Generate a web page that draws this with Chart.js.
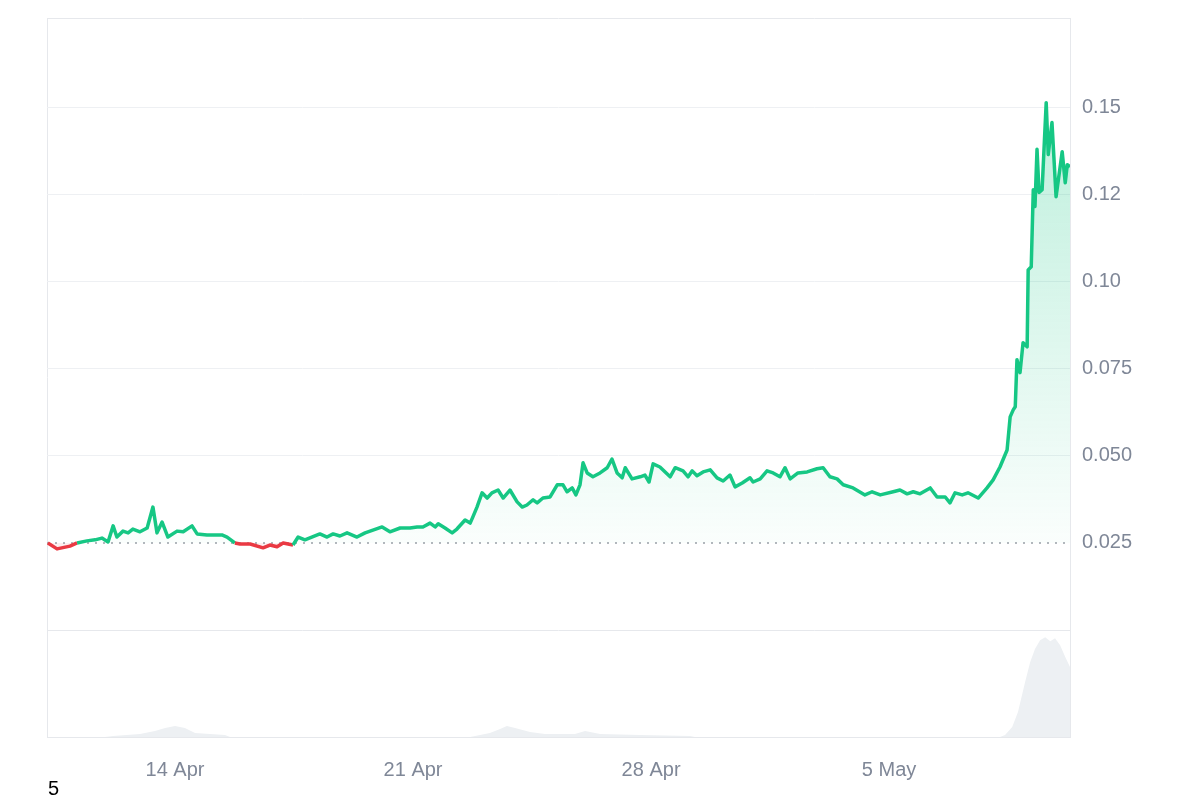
<!DOCTYPE html>
<html>
<head>
<meta charset="utf-8">
<script src="https://cdn.jsdelivr.net/npm/chart.js@4.4.1/dist/chart.umd.min.js"></script>
<style>
  html, body { margin: 0; padding: 0; background: #fff; }
  #wrap { position: relative; width: 1200px; height: 800px; }
  #note { position: absolute; left: 48px; top: 778px; font: 20px "Liberation Sans", Arial, sans-serif; color: #000; line-height: 20px; }
</style>
</head>
<body>
<div id="wrap">
  <canvas id="chart" width="1200" height="800"></canvas>
  <div id="note">5</div>
</div>
<script>
// x values are days since 10 Apr 00:00
const xMin = 0.235;
const xMax = 30.32;

const priceDays = [
  0.26, 0.53, 0.91, 1.12, 1.41, 1.65, 1.85, 2.03, 2.18, 2.29,
  2.47, 2.62, 2.76, 2.97, 3.18, 3.35, 3.47, 3.62, 3.79, 4.06,
  4.24, 4.50, 4.65, 4.94, 5.38, 5.53, 5.76, 5.91, 6.21, 6.59,
  6.79, 7.00, 7.18, 7.47, 7.62, 7.82, 8.26, 8.47, 8.65, 8.85,
  9.06, 9.35, 9.59, 9.82, 10.09, 10.32, 10.62, 10.91, 11.12, 11.29,
  11.50, 11.65, 11.74, 11.94, 12.15, 12.29, 12.53, 12.68, 12.76, 12.88,
  13.03, 13.18, 13.32, 13.50, 13.65, 13.85, 14.06, 14.21, 14.35, 14.53,
  14.65, 14.82, 15.03, 15.24, 15.41, 15.53, 15.68, 15.79, 15.91, 16.00,
  16.12, 16.29, 16.50, 16.71, 16.85, 17.00, 17.15, 17.24, 17.44, 17.68,
  17.82, 17.94, 18.06, 18.26, 18.56, 18.71, 18.94, 19.09, 19.21, 19.35,
  19.53, 19.74, 19.94, 20.12, 20.32, 20.47, 20.68, 20.91, 21.00, 21.21,
  21.41, 21.59, 21.79, 21.94, 22.09, 22.32, 22.59, 22.88, 23.06, 23.26,
  23.47, 23.65, 23.94, 24.29, 24.50, 24.74, 25.12, 25.32, 25.53, 25.71,
  25.91, 26.21, 26.41, 26.65, 26.79, 26.94, 27.15, 27.32, 27.62, 27.88,
  28.06, 28.26, 28.47, 28.56, 28.65, 28.71, 28.76, 28.85, 28.94, 29.06,
  29.09, 29.18, 29.24, 29.29, 29.35, 29.41, 29.50, 29.62, 29.68, 29.79,
  29.91, 30.09, 30.18, 30.24, 30.32
];
const prices = [
  0.0250, 0.0233, 0.0241, 0.0250, 0.0256, 0.0259, 0.0264, 0.0253, 0.0299, 0.0267,
  0.0284, 0.0279, 0.0290, 0.0282, 0.0293, 0.0353, 0.0279, 0.0310, 0.0267, 0.0284,
  0.0282, 0.0299, 0.0276, 0.0273, 0.0273, 0.0267, 0.0250, 0.0247, 0.0247, 0.0236,
  0.0244, 0.0239, 0.0250, 0.0244, 0.0267, 0.0259, 0.0276, 0.0267, 0.0276, 0.0270,
  0.0279, 0.0267, 0.0279, 0.0287, 0.0296, 0.0282, 0.0293, 0.0293, 0.0296, 0.0296,
  0.0307, 0.0296, 0.0305, 0.0293, 0.0279, 0.0290, 0.0316, 0.0307, 0.0325, 0.0353,
  0.0394, 0.0379, 0.0394, 0.0402, 0.0379, 0.0402, 0.0368, 0.0353, 0.0359, 0.0374,
  0.0365, 0.0379, 0.0382, 0.0417, 0.0417, 0.0397, 0.0408, 0.0388, 0.0417, 0.0480,
  0.0451, 0.0440, 0.0451, 0.0466, 0.0491, 0.0451, 0.0437, 0.0466, 0.0434, 0.0440,
  0.0445, 0.0425, 0.0477, 0.0468, 0.0440, 0.0466, 0.0457, 0.0440, 0.0457, 0.0443,
  0.0454, 0.0460, 0.0437, 0.0428, 0.0445, 0.0411, 0.0422, 0.0437, 0.0425, 0.0434,
  0.0457, 0.0451, 0.0440, 0.0466, 0.0434, 0.0451, 0.0454, 0.0463, 0.0466, 0.0440,
  0.0434, 0.0417, 0.0408, 0.0388, 0.0397, 0.0388, 0.0397, 0.0402, 0.0391, 0.0397,
  0.0391, 0.0408, 0.0382, 0.0382, 0.0365, 0.0394, 0.0388, 0.0394, 0.0379, 0.0408,
  0.0431, 0.0468, 0.0517, 0.0612, 0.0632, 0.0641, 0.0776, 0.0739, 0.0825, 0.0813,
  0.1034, 0.1043, 0.1264, 0.1216, 0.1380, 0.1256, 0.1264, 0.1514, 0.1365, 0.1457,
  0.1244, 0.1373, 0.1284, 0.1336, 0.1330
];

// relative trading volume (peak = 100)
const volumeDays = [
  0.235, 1.94, 2.18, 2.97, 3.41, 3.71, 4.00, 4.29, 4.59, 5.47, 5.62,
  12.68, 12.97, 13.26, 13.56, 13.76, 14.00, 14.44, 14.88, 15.76, 16.06, 16.50, 17.68, 19.15, 19.29,
  28.26, 28.41, 28.62, 28.79, 29.00, 29.15, 29.29, 29.44, 29.59, 29.74, 29.88, 30.03, 30.18, 30.32
];
const volumes = [
  0, 0, 1, 3, 6, 9, 11, 9, 4, 2, 0,
  0, 2, 4, 8, 11, 9, 5, 3, 3, 6, 3, 2, 1, 0,
  0, 2, 10, 25, 55, 75, 88, 97, 100, 96, 99, 92, 80, 70
];

const baseline = 0.025;
const xTickDays = [4, 11, 18, 25];
const xTickLabels = ['14 Apr', '21 Apr', '28 Apr', '5 May'];
const yTicks = [0.025, 0.05, 0.075, 0.1, 0.125, 0.15];
const yTickLabels = ['0.025', '0.050', '0.075', '0.10', '0.12', '0.15'];

const green = '#16c784';
const red = '#ea3943';
const gridColor = '#eef0f3';
const borderColor = '#e6e8ec';
const tickColor = '#7f8797';
const font = { family: '"Liberation Sans", Arial, sans-serif', size: 20 };

const pricePoints = priceDays.map((d, i) => ({ x: d, y: prices[i] }));
const volumePoints = volumeDays.map((d, i) => ({ x: d, y: volumes[i] }));

new Chart(document.getElementById('chart'), {
  type: 'line',
  data: {
    datasets: [
      {
        data: pricePoints,
        order: 0,
        borderColor: green,
        borderWidth: 3.5,
        borderJoinStyle: 'round',
        pointRadius: 0,
        tension: 0,
        segment: {
          borderColor: ctx => (ctx.p0.parsed.y + ctx.p1.parsed.y) / 2 < baseline ? red : green
        },
        backgroundColor: ctx => {
          const { chart } = ctx;
          if (!chart.chartArea) return 'rgba(22,199,132,0.1)';
          const y = chart.scales.y;
          const g = chart.ctx.createLinearGradient(0, y.getPixelForValue(0.15), 0, y.getPixelForValue(baseline));
          g.addColorStop(0, 'rgba(22,199,132,0.28)');
          g.addColorStop(1, 'rgba(22,199,132,0.02)');
          return g;
        },
        fill: { target: { value: baseline }, below: 'rgba(234,57,67,0.08)' }
      },
      {
        data: [{ x: xMin, y: baseline }, { x: xMax, y: baseline }],
        order: 1,
        borderColor: '#9aa0a8',
        borderWidth: 1.5,
        borderDash: [2, 6],
        pointRadius: 0,
        fill: false
      },
      {
        data: volumePoints,
        order: 2,
        yAxisID: 'yv',
        borderWidth: 0,
        pointRadius: 0,
        backgroundColor: '#edf0f3',
        fill: 'origin'
      }
    ]
  },
  options: {
    responsive: false,
    animation: false,
    layout: { padding: { left: 47, top: 18, right: 0, bottom: 0 } },
    plugins: { legend: { display: false }, tooltip: { enabled: false } },
    scales: {
      x: {
        type: 'linear',
        min: xMin,
        max: xMax,
        afterBuildTicks: s => { s.ticks = [xMin, ...xTickDays, xMax].map(v => ({ value: v })); },
        afterFit: s => { s.height = 63; s.paddingLeft = 0; s.paddingRight = 0; },
        ticks: {
          autoSkip: false,
          maxRotation: 0,
          padding: 21,
          color: tickColor,
          font: font,
          callback: v => {
            const i = xTickDays.indexOf(v);
            return i >= 0 ? xTickLabels[i] : '';
          }
        },
        grid: {
          drawTicks: false,
          color: ctx => (ctx.tick && ctx.tick.value === xMin) ? borderColor : 'rgba(0,0,0,0)'
        },
        border: { display: true, color: borderColor }
      },
      y: {
        position: 'right',
        min: -0.0307,
        max: 0.1757,
        afterBuildTicks: s => { s.ticks = [-0.0307, 0, ...yTicks, 0.1757].map(v => ({ value: v })); },
        afterFit: s => { s.width = 130; s.paddingTop = 0; s.paddingBottom = 0; },
        ticks: {
          padding: 12,
          color: tickColor,
          font: font,
          callback: v => {
            const i = yTicks.indexOf(v);
            return i >= 0 ? yTickLabels[i] : '';
          }
        },
        grid: {
          drawTicks: false,
          color: ctx => {
            const v = ctx.tick ? ctx.tick.value : null;
            if (v === baseline) return 'rgba(0,0,0,0)';
            if (v === 0.1757 || v === 0) return borderColor;
            return gridColor;
          }
        },
        border: { display: true, color: borderColor }
      },
      yv: {
        display: false,
        min: 0,
        max: 720
      }
    }
  }
});
</script>
</body>
</html>
